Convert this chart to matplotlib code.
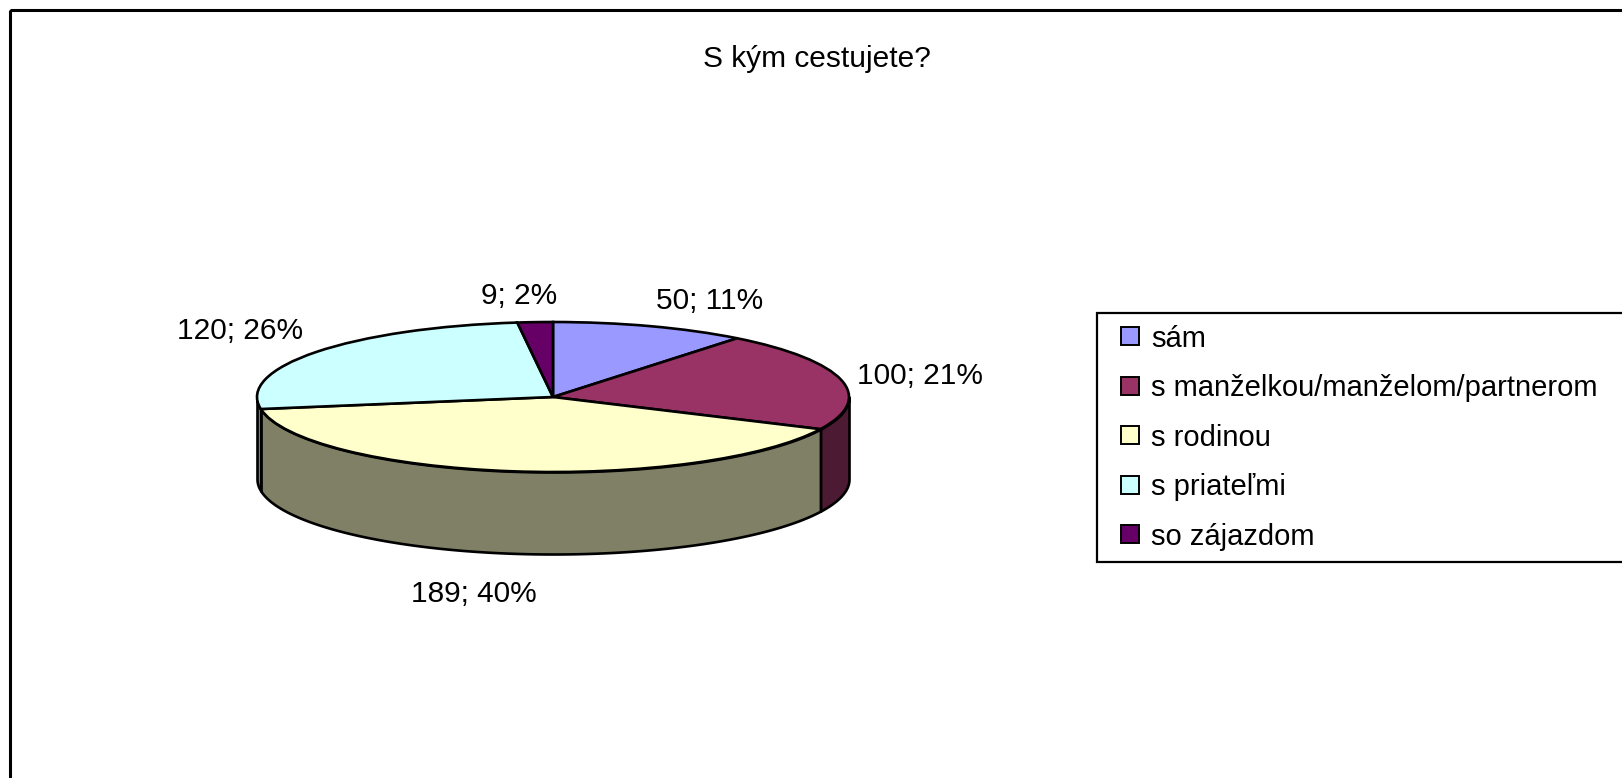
import numpy as np
import matplotlib
matplotlib.use('Agg')
import matplotlib.pyplot as plt
from matplotlib.lines import Line2D
from matplotlib.patches import Rectangle

plt.rcParams['font.family'] = ['Liberation Sans', 'DejaVu Sans']

# ---- data ----
title = "S kým cestujete?"
categories = ["sám", "s manželkou/manželom/partnerom", "s rodinou", "s priateľmi", "so zájazdom"]
counts = [50, 100, 189, 120, 9]
top_colors = ["#9999FF", "#993366", "#FFFFCC", "#CCFFFF", "#660066"]
side_colors = ["#4D4D80", "#4D1A33", "#808066", "#668080", "#330033"]

# ---- layout ----
W, H, DPI = 1622, 778, 100
FS = 21.5
LFS = 21
EDGE = 1.9
fig = plt.figure(figsize=(W / DPI, H / DPI), dpi=DPI)
fig.patch.set_facecolor('white')


def px_rect(x0, y0, x1, y1):
    """pixel box (origin top-left) -> figure fraction rect"""
    return [x0 / W, 1 - y1 / H, (x1 - x0) / W, (y1 - y0) / H]


# outer chart border (cropped on the right / bottom)
bg = fig.add_axes([0, 0, 1, 1])
bg.set_xlim(0, W)
bg.set_ylim(H, 0)
bg.axis('off')
bg.add_patch(Rectangle((10, 10), W + 50, H + 50, fill=False, ec='black', lw=2.2))

fig.text(817 / W, 1 - 59 / H, title, ha='center', va='center', fontsize=FS)

# pie geometry (pixels)
cx, cy, a, b, depth = 553, 397, 296, 75, 82
xl = (-1.25, 1.25)
yl = (-2.4, 1.6)
ax = fig.add_axes(px_rect(cx + xl[0] * a, cy - yl[1] * b, cx + xl[1] * a, cy - yl[0] * b))
d = depth / b

total = sum(counts)
bounds = 90 - 360 * np.concatenate([[0], np.cumsum(counts)]) / total

# side walls (front half only)
for i in range(len(counts)):
    hi, lo = bounds[i], bounds[i + 1]
    s, e = max(lo, -180), min(hi, 0)
    if e > s:
        th = np.radians(np.linspace(s, e, 300))
        x = np.cos(th)
        yt = np.sin(th)
        ax.fill_between(x, yt, yt - d, facecolor=side_colors[i], edgecolor='black',
                        linewidth=EDGE, zorder=1)

wedges, _ = ax.pie(counts, colors=top_colors, startangle=90, counterclock=False, radius=1,
                   wedgeprops=dict(edgecolor='black', linewidth=EDGE))
for w in wedges:
    w.set_zorder(2)
ax.set_aspect('auto')
ax.set_xlim(*xl)
ax.set_ylim(*yl)
ax.axis('off')

# data labels
for i, n in enumerate(counts):
    m = np.radians((bounds[i] + bounds[i + 1]) / 2)
    cm, sm = np.cos(m), np.sin(m)
    X, Y = cm, sm - (d if sm < 0 else 0)
    if abs(cm) < 0.25:
        ha, ox = 'center', 0.9 * a * cm
    else:
        ha, ox = ('left' if cm > 0 else 'right'), 16 * cm
    if sm > 0.3:
        va, k = 'bottom', 12
    elif sm < -0.3:
        va, k = 'top', 27
    else:
        va, k = 'center', 20
    oy = k * sm
    pct = round(100 * n / total)
    ax.annotate(f"{n}; {pct}%", xy=(X, Y), xytext=(ox, oy), textcoords='offset pixels',
                ha=ha, va=va, fontsize=FS, annotation_clip=False)

# legend
handles = [Line2D([], [], ls='none', marker='s', markersize=12.3, markerfacecolor=c,
                  markeredgecolor='black', markeredgewidth=1.4) for c in top_colors]
leg = fig.legend(handles, categories, loc='upper left',
                 bbox_to_anchor=(1097 / W, 1 - 560 / H, 700 / W, (560 - 313) / H),
                 mode='expand', borderaxespad=0, frameon=True, fancybox=False,
                 edgecolor='black', framealpha=1, fontsize=LFS, borderpad=0.40,
                 labelspacing=0.737, handlelength=1.45, handletextpad=0.0)
leg.get_frame().set_linewidth(1.6)

fig.savefig('out.png', dpi=DPI, facecolor='white')
